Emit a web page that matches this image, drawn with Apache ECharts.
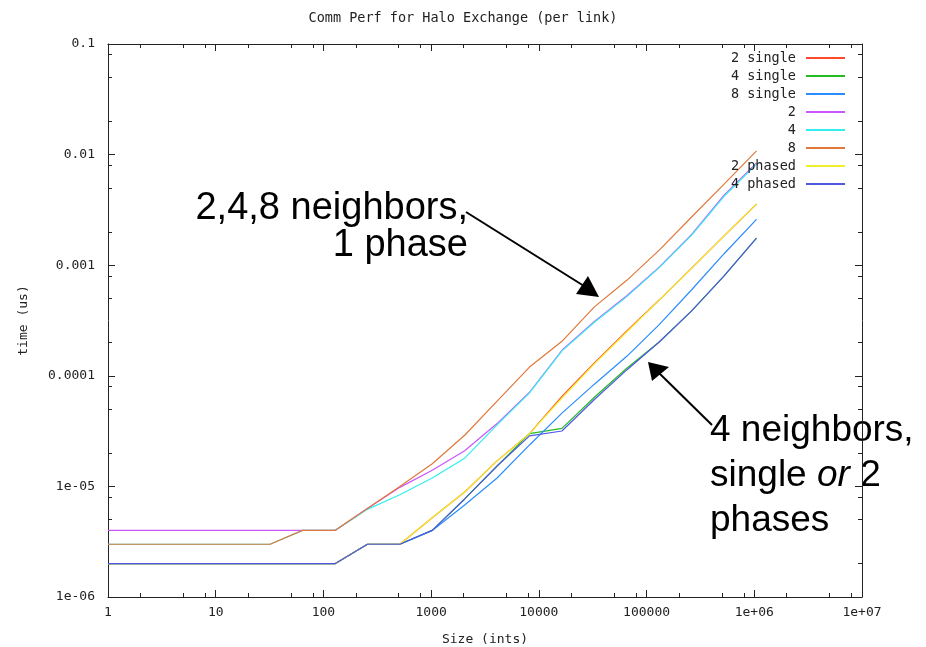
<!DOCTYPE html>
<html>
<head>
<meta charset="utf-8">
<script src="https://cdn.jsdelivr.net/npm/echarts@6/dist/echarts.min.js"></script>
<style>
html, body { margin: 0; padding: 0; background: #fff; }
#chart { width: 926px; height: 647px; }
</style>
</head>
<body>
<div id="chart"></div>
<script>
// message sizes (ints), powers of two
const sizes = [1, 2, 4, 8, 16, 32, 64, 128, 256, 512, 1024, 2048, 4096, 8192, 16384, 32768, 65536, 131072, 262144, 524288, 1048576]

// time (us) per series
const single2 = [2e-6, 2e-6, 2e-6, 2e-6, 2e-6, 2e-6, 2e-6, 2e-6, 3e-6, 3e-6, 5.2e-6, 8.9e-6, 1.7e-5, 3.0e-5, 6.5e-5, 1.31e-4, 2.55e-4, 4.84e-4, 9.4e-4, 1.84e-3, 3.57e-3]
const single4 = [2e-6, 2e-6, 2e-6, 2e-6, 2e-6, 2e-6, 2e-6, 2e-6, 3e-6, 3e-6, 4e-6, 7.7e-6, 1.53e-5, 3.0e-5, 3.35e-5, 6.4e-5, 1.17e-4, 2.02e-4, 3.86e-4, 8.0e-4, 1.76e-3]
const single8 = [2e-6, 2e-6, 2e-6, 2e-6, 2e-6, 2e-6, 2e-6, 2e-6, 3e-6, 3e-6, 4e-6, 6.8e-6, 1.19e-5, 2.37e-5, 4.6e-5, 8.4e-5, 1.5e-4, 2.9e-4, 6.0e-4, 1.27e-3, 2.6e-3]
const n2 = [4e-6, 4e-6, 4e-6, 4e-6, 4e-6, 4e-6, 4e-6, 4e-6, 6.3e-6, 9.8e-6, 1.4e-5, 2.1e-5, 3.7e-5, 7.1e-5, 1.7e-4, 3.1e-4, 5.3e-4, 9.6e-4, 1.9e-3, 4.3e-3, 8.4e-3]
const n4 = [3e-6, 3e-6, 3e-6, 3e-6, 3e-6, 3e-6, 4e-6, 4e-6, 6.2e-6, 8.4e-6, 1.19e-5, 1.8e-5, 3.6e-5, 7.0e-5, 1.68e-4, 3.05e-4, 5.2e-4, 9.5e-4, 1.87e-3, 4.2e-3, 8.2e-3]
const n8 = [3e-6, 3e-6, 3e-6, 3e-6, 3e-6, 3e-6, 4e-6, 4e-6, 6.3e-6, 1.0e-5, 1.6e-5, 2.9e-5, 5.9e-5, 1.2e-4, 2.05e-4, 4.2e-4, 7.3e-4, 1.37e-3, 2.73e-3, 5.4e-3, 1.08e-2]
const phased2 = [2e-6, 2e-6, 2e-6, 2e-6, 2e-6, 2e-6, 2e-6, 2e-6, 3e-6, 3e-6, 5.2e-6, 8.9e-6, 1.7e-5, 3.0e-5, 6.3e-5, 1.28e-4, 2.49e-4, 4.84e-4, 9.4e-4, 1.84e-3, 3.57e-3]
const phased4 = [2e-6, 2e-6, 2e-6, 2e-6, 2e-6, 2e-6, 2e-6, 2e-6, 3e-6, 3e-6, 4e-6, 7.7e-6, 1.53e-5, 2.86e-5, 3.17e-5, 6.1e-5, 1.13e-4, 2.02e-4, 3.86e-4, 8.0e-4, 1.76e-3]

const seriesNames = ['2 single', '4 single', '8 single', '2', '4', '8', '2 phased', '4 phased']
const seriesValues = [single2, single4, single8, n2, n4, n8, phased2, phased4]
const seriesColors = ['#ff4a2a', '#22bb22', '#2a8cff', '#cc55ff', '#33eeee', '#e0783a', '#f0f02a', '#5058e0']

// ticks
const xMajor = [1, 10, 100, 1000, 10000, 100000, 1e6, 1e7]
const xLabels = ['1', '10', '100', '1000', '10000', '100000', '1e+06', '1e+07']
const xMinor = [2, 5, 8, 20, 50, 80, 200, 500, 800, 2000, 5000, 8000, 20000, 50000, 80000, 2e5, 5e5, 8e5, 2e6, 5e6, 8e6]
const yMajor = [1e-6, 1e-5, 1e-4, 1e-3, 1e-2, 1e-1]
const yLabels = ['1e-06', '1e-05', '0.0001', '0.001', '0.01', '0.1']
const yMinor = [2e-6, 5e-6, 8e-6, 2e-5, 5e-5, 8e-5, 2e-4, 5e-4, 8e-4, 2e-3, 5e-3, 8e-3, 2e-2, 5e-2, 8e-2]

const monoFont = 'DejaVu Sans Mono'
const ink = '#222'

function labelFor(majors, labels) {
    return function (value) {
        const i = majors.findIndex(v => Math.abs(Math.log10(v) - Math.log10(value)) < 1e-6)
        return i >= 0 ? labels[i] : ''
    }
}

function makeAxis(min, max, position, ticks, tickLen, withLine, labels) {
    return {
        type: 'log',
        logBase: 10,
        min: min,
        max: max,
        position: position,
        axisLine: { show: withLine, onZero: false, lineStyle: { color: ink, width: 1 } },
        axisTick: { show: true, inside: true, length: tickLen, customValues: ticks, lineStyle: { color: ink, width: 1 } },
        axisLabel: labels ? {
            show: true,
            customValues: ticks,
            formatter: labels,
            fontFamily: monoFont,
            fontSize: 13,
            color: ink
        } : { show: false },
        splitLine: { show: false },
        minorTick: { show: false }
    }
}

const chart = echarts.init(document.getElementById('chart'))

const xMain = makeAxis(1, 1e7, 'bottom', xMajor, 7, true, labelFor(xMajor, xLabels))
xMain.axisLabel.margin = 9
xMain.name = 'Size (ints)'
xMain.nameLocation = 'middle'
xMain.nameGap = 36
xMain.nameTextStyle = { fontFamily: monoFont, fontSize: 13, color: ink }

const yMain = makeAxis(1e-6, 0.1, 'left', yMajor, 7, true, labelFor(yMajor, yLabels))
yMain.axisLabel.margin = 13
yMain.name = 'time (us)'
yMain.nameLocation = 'middle'
yMain.nameGap = 78
yMain.nameTextStyle = { fontFamily: monoFont, fontSize: 13, color: ink }

const option = {
    animation: false,
    backgroundColor: '#fff',
    title: {
        text: 'Comm Perf for Halo Exchange (per link)',
        left: 'center',
        top: 6,
        textStyle: { fontFamily: monoFont, fontSize: 13.5, fontWeight: 'normal', color: ink }
    },
    grid: { left: 108, right: 64, top: 44, bottom: 50, containLabel: false, outerBoundsMode: 'none' },
    legend: {
        orient: 'vertical',
        right: 76,
        top: 46,
        align: 'right',
        icon: 'rect',
        itemWidth: 39,
        itemHeight: 2,
        itemGap: 4,
        textStyle: { fontFamily: monoFont, fontSize: 13.5, color: ink, padding: [0, 5, 0, 0] },
        data: seriesNames
    },
    xAxis: [
        xMain,
        makeAxis(1, 1e7, 'top', xMajor, 7, true, null),
        makeAxis(1, 1e7, 'bottom', xMinor, 4, false, null),
        makeAxis(1, 1e7, 'top', xMinor, 4, false, null)
    ],
    yAxis: [
        yMain,
        makeAxis(1e-6, 0.1, 'right', yMajor, 7, true, null),
        makeAxis(1e-6, 0.1, 'left', yMinor, 4, false, null),
        makeAxis(1e-6, 0.1, 'right', yMinor, 4, false, null)
    ],
    series: seriesNames.map((name, i) => ({
        name: name,
        type: 'line',
        xAxisIndex: 0,
        yAxisIndex: 0,
        symbol: 'none',
        color: seriesColors[i],
        lineStyle: { width: 1.2, color: seriesColors[i] },
        data: sizes.map((s, j) => [s, seriesValues[i][j]])
    })),
    graphic: [
        {
            type: 'text',
            x: 468, y: 190,
            style: {
                text: '2,4,8 neighbors,\n1 phase',
                align: 'right',
                verticalAlign: 'top',
                font: '38px "Liberation Sans", Arial, sans-serif',
                lineHeight: 37,
                fill: '#000'
            }
        },
        {
            type: 'text',
            x: 710, y: 408,
            style: {
                text: '{a|4 neighbors,}\n{a|single }{i|or}{a| 2}\n{a|phases}',
                align: 'left',
                verticalAlign: 'top',
                rich: {
                    a: { font: '37px "Liberation Sans", Arial, sans-serif', lineHeight: 45, fill: '#000' },
                    i: { font: 'italic 37px "Liberation Sans", Arial, sans-serif', lineHeight: 45, fill: '#000' }
                }
            }
        },
        { type: 'line', shape: { x1: 466, y1: 212, x2: 584, y2: 286 }, style: { stroke: '#000', lineWidth: 2 } },
        { type: 'polygon', shape: { points: [[599, 297], [576, 294], [588, 276]] }, style: { fill: '#000' } },
        { type: 'line', shape: { x1: 712, y1: 425, x2: 658, y2: 372 }, style: { stroke: '#000', lineWidth: 2 } },
        { type: 'polygon', shape: { points: [[648, 362], [652, 381], [669, 367]] }, style: { fill: '#000' } }
    ]
}

chart.setOption(option)
window.addEventListener('resize', () => {
    chart.resize()
})
</script>
</body>
</html>
